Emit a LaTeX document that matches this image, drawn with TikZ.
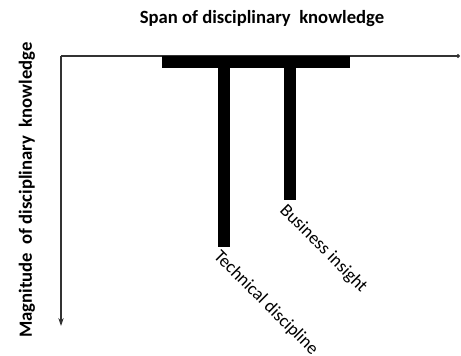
\documentclass[tikz,border=0pt]{standalone}
\usepackage{fontspec}
\setmainfont{Carlito}
\usepackage{tikz}
\usepackage{xcolor}
\usetikzlibrary{positioning, arrows.meta}
\definecolor{axisgray}{RGB}{50, 50, 50}
\tikzset{
    axis/.style={line width=0.8pt, draw=axisgray},
    bar/.style={rectangle, fill=black, inner sep=0pt, outer sep=0pt},
    axislabel/.style={font=\fontsize{14}{16}\selectfont\bfseries, inner sep=0pt},
    barlabel/.style={font=\fontsize{13.5}{16}\selectfont, inner sep=0pt, rotate=-45, anchor=north west}
}

\begin{document}
\begin{tikzpicture}[x=0.75pt, y=-0.75pt]
                    \useasboundingbox (0,0) rectangle (461,356);
                    \coordinate (origin) at (61,56);
                    \coordinate (xend) at (460,56);
                    \coordinate (yend) at (61,326);

                    \node[axislabel] (title) at (262,19) {Span of disciplinary\ \ knowledge};
                    \node[axislabel, rotate=90] (ylabel) at (27,190) {Magnitude\ \ of disciplinary\ \ knowledge};

                    \draw[axis, -{Circle[length=3pt]}] (origin) -- (xend);
                    \draw[axis, -{Stealth[length=6pt, width=4pt]}] (origin) -- (yend);

                    % T shape: one bar across the top, two stems below it
                    \node[bar, minimum width=188*0.75pt, minimum height=12*0.75pt, anchor=north west] (span) at (162,56) {};
                    \node[bar, minimum width=12*0.75pt, minimum height=179*0.75pt, anchor=north west] (tech) at (218,68) {};
                    \node[bar, minimum width=12*0.75pt, minimum height=132*0.75pt, anchor=north west] (biz) at (284,68) {};

                    \node[barlabel] (techlabel) at (222,248) {Technical discipline};
                    \node[barlabel] (bizlabel) at (288,202) {Business insight};
                \end{tikzpicture}
\end{document}
